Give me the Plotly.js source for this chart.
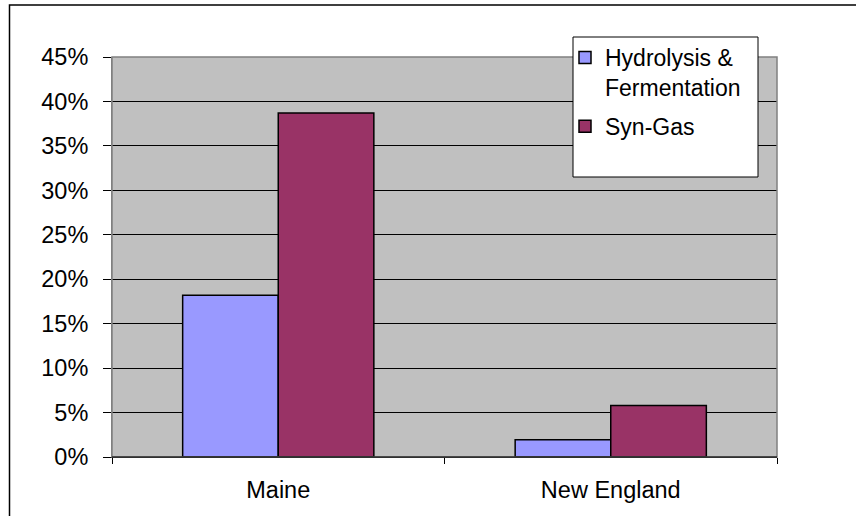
<!DOCTYPE html>
<html>
<head>
<meta charset="utf-8">
<script src="https://cdn.plot.ly/plotly-3.0.1.min.js"></script>
<style>html,body{margin:0;padding:0;background:#fff;}#chart{width:856px;height:516px;}</style>
</head>
<body>
<div id="chart"></div>
<script>
var categories = ["Maine", "New England"];
var seriesNames = ["Hydrolysis &<br>Fermentation", "Syn-Gas"];
var hydrolysis = [18.2, 1.95];
var synGas = [38.7, 5.8];
var yTicks = [0, 5, 10, 15, 20, 25, 30, 35, 40, 45];

var L = 112, R = 79, T = 57, B = 59;
var W = 856 - L - R, H = 516 - T - B;
function px(x) { return (x - L) / W; }
function py(y) { return (516 - B - y) / H; }

var font = {family: "Liberation Sans, Arial, sans-serif", size: 23.5, color: "#000"};

var data = [
  {type: "bar", name: seriesNames[0], x: categories, y: hydrolysis, legendgroup: "a",
   marker: {color: "#9999FF", line: {color: "#000", width: 1.5}}},
  {type: "bar", name: seriesNames[1], x: categories, y: synGas, legendgroup: "b",
   marker: {color: "#993366", line: {color: "#000", width: 1.5}}}
];

var layout = {
  width: 856, height: 516,
  margin: {l: L, r: R, t: T, b: B, pad: 0},
  paper_bgcolor: "#fff",
  plot_bgcolor: "#C0C0C0",
  font: font,
  barmode: "group",
  bargap: 0.425,
  bargroupgap: 0,
  showlegend: true,
  legend: {
    x: px(565), y: py(36), xanchor: "left", yanchor: "top",
    bgcolor: "rgba(0,0,0,0)", borderwidth: 0,
    font: {family: font.family, size: 23, color: "#000"},
    valign: "top", traceorder: "grouped", tracegroupgap: 6, itemclick: false
  },
  xaxis: {
    type: "category",
    showline: true, linecolor: "#000", linewidth: 1,
    ticks: "outside", tickson: "boundaries", ticklen: 6, tickcolor: "#000",
    ticklabelstandoff: 12,
    showgrid: false, zeroline: false, fixedrange: true
  },
  yaxis: {
    range: [0, 45], tickvals: yTicks, ticktext: yTicks.map(function(v){return v + "%";}),
    showline: true, linecolor: "#808080", linewidth: 1,
    ticks: "outside", ticklen: 8, tickcolor: "#000",
    ticklabelstandoff: 10,
    showgrid: true, gridcolor: "#000", gridwidth: 1,
    zeroline: false, fixedrange: true
  },
  shapes: [
    {type: "rect", xref: "paper", yref: "paper", x0: 0, x1: 1, y0: 0, y1: 1,
     line: {color: "#808080", width: 1.5}, fillcolor: "rgba(0,0,0,0)", layer: "above"},
    {type: "line", xref: "paper", yref: "paper", x0: 0, x1: 1, y0: 0, y1: 0,
     line: {color: "#000", width: 1}, layer: "above"},
    {type: "rect", xref: "paper", yref: "paper", x0: px(573), x1: px(758), y0: py(177), y1: py(37),
     line: {color: "#000", width: 1}, fillcolor: "#fff", layer: "above"},
    {type: "rect", xref: "paper", yref: "paper", x0: px(9.5), x1: px(900), y0: py(560), y1: py(5),
     line: {color: "#000", width: 1.5}, fillcolor: "rgba(0,0,0,0)", layer: "above"}
  ]
};

Plotly.newPlot("chart", data, layout, {staticPlot: true, displayModeBar: false});
</script>
</body>
</html>
